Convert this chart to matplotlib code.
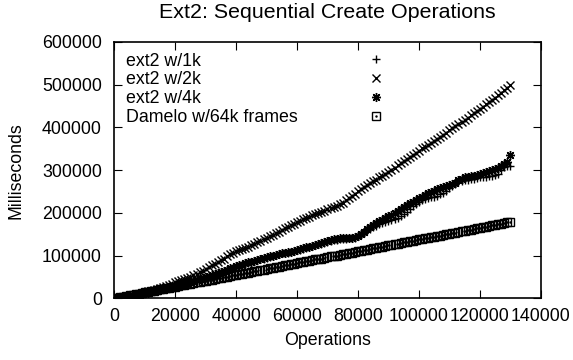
import numpy as np
import matplotlib
matplotlib.use("Agg")
import matplotlib.pyplot as plt

plt.rcParams['font.family'] = ['Liberation Sans', 'DejaVu Sans']
plt.rcParams['font.size'] = 12.8

# operations (x), one sample every 1000 ops
ops = list(range(0, 131000, 1000))

# milliseconds, in thousands
ext2_1k = [0, 1, 2, 3, 4, 5, 7, 8, 9, 11, 12, 14, 15, 17, 18, 20, 21, 23, 24, 26, 28,
           30, 31, 33, 35, 37, 40, 42, 45, 47, 50, 52, 54, 57, 59, 62, 64, 67, 69, 72, 74,
           77, 79, 81, 83, 85, 87, 89, 91, 93, 95, 97, 99, 101, 103, 105, 106, 107, 109, 110, 112,
           114, 116, 118, 120, 122, 124, 126, 128, 130, 132, 134, 136, 137, 138, 139, 139, 140, 141, 142, 145,
           150, 154, 159, 163, 167, 170, 173, 176, 178, 181, 183, 185, 188, 192, 197, 203, 209, 215, 220, 225,
           229, 232, 234, 236, 238, 240, 243, 247, 252, 258, 264, 268, 272, 275, 277, 278, 279, 280, 282, 283,
           284, 285, 286, 287, 289, 292, 300, 308, 310, 310]
ext2_2k = [0, 1, 2, 4, 5, 6, 8, 9, 11, 12, 14, 16, 18, 20, 22, 24, 26, 28, 31, 34, 37,
           40, 42, 45, 48, 51, 54, 57, 61, 65, 69, 73, 77, 81, 85, 89, 93, 98, 103, 107, 110,
           113, 116, 118, 121, 124, 128, 131, 135, 138, 142, 145, 149, 153, 156, 160, 164, 168, 171, 175, 179,
           182, 185, 188, 191, 194, 197, 200, 203, 205, 208, 211, 214, 217, 220, 224, 229, 234, 240, 245, 251,
           256, 260, 265, 269, 274, 278, 283, 287, 292, 296, 301, 306, 311, 316, 321, 326, 331, 336, 341, 346,
           351, 355, 360, 364, 369, 373, 378, 383, 388, 393, 398, 403, 408, 413, 418, 423, 428, 434, 439, 444,
           449, 454, 459, 464, 469, 475, 481, 487, 493, 500]
ext2_4k = [0, 1, 2, 3, 4, 5, 6, 8, 9, 10, 12, 13, 15, 16, 18, 19, 21, 22, 24, 26, 28,
           30, 32, 34, 36, 38, 40, 43, 45, 48, 50, 52, 55, 57, 60, 62, 65, 67, 70, 72, 75,
           77, 79, 82, 84, 86, 88, 90, 92, 94, 96, 98, 100, 102, 104, 106, 107, 108, 109, 111, 113,
           115, 117, 119, 121, 123, 125, 127, 129, 131, 133, 136, 138, 139, 140, 141, 141, 142, 142, 144, 147,
           151, 156, 162, 167, 172, 176, 180, 184, 188, 192, 196, 200, 204, 208, 213, 218, 222, 226, 230, 234,
           238, 242, 246, 249, 252, 255, 258, 261, 264, 266, 268, 270, 276, 280, 283, 284, 286, 287, 289, 291,
           293, 295, 297, 300, 303, 306, 310, 314, 318, 335]
damelo_64k = [0, 1, 3, 4, 5, 7, 8, 10, 11, 12, 14,
              15, 16, 18, 19, 21, 22, 23, 25, 26, 27,
              29, 30, 32, 33, 34, 36, 37, 38, 40, 41,
              43, 44, 45, 47, 48, 49, 51, 52, 54, 55,
              56, 58, 59, 60, 62, 63, 65, 66, 67, 69,
              70, 71, 73, 74, 76, 77, 78, 80, 81, 82,
              84, 85, 87, 88, 89, 91, 92, 93, 95, 96,
              98, 99, 100, 102, 103, 104, 106, 107, 109, 110,
              111, 113, 114, 115, 117, 118, 120, 121, 122, 124,
              125, 126, 128, 129, 131, 132, 133, 135, 136, 138,
              139, 140, 142, 143, 144, 146, 147, 149, 150, 151,
              153, 154, 155, 157, 158, 160, 161, 162, 164, 165,
              166, 168, 169, 171, 172, 173, 175, 176, 178, 179]

labels = ["ext2 w/1k", "ext2 w/2k", "ext2 w/4k", "Damelo w/64k frames"]

fig = plt.figure(figsize=(5.73, 3.6), dpi=100)
ax = fig.add_axes([114.3 / 573, 1 - 298.3 / 360, 426.4 / 573, 256.3 / 360])

x = np.array(ops)
mew = 1.0
h1, = ax.plot(x, np.array(ext2_1k) * 1000, ls='none', marker='+', ms=5.8, mew=mew, color='black')
h2, = ax.plot(x, np.array(ext2_2k) * 1000, ls='none', marker='x', ms=5.2, mew=mew, color='black')
h3, = ax.plot(x, np.array(ext2_4k) * 1000, ls='none', marker=(8, 2, 0), ms=6.5, mew=mew, color='black')
h4a, = ax.plot(x, np.array(damelo_64k) * 1000, ls='none', marker='s', ms=5.4, mew=mew,
               mfc='none', color='black')
h4b, = ax.plot(x, np.array(damelo_64k) * 1000, ls='none', marker='.', ms=1.5, color='black')

ax.set_xlim(0, 140000)
ax.set_ylim(0, 600000)
ax.set_xticks(range(0, 140001, 20000))
ax.set_yticks(range(0, 600001, 100000))
ax.tick_params(direction='in', length=5.5, width=0.8, top=True, right=True)
ax.tick_params(axis='y', pad=9)
ax.tick_params(axis='x', pad=7)
for s in ax.spines.values():
    s.set_linewidth(1.2)

ax.set_title("Ext2: Sequential Create Operations", pad=17)
ax.set_xlabel("Operations", labelpad=5)
ax.set_ylabel("Milliseconds", labelpad=12.5)

# gnuplot style key: text left-aligned, samples in a column further right
blank = [plt.Line2D([], [], ls='none') for _ in labels]
leg_text = ax.legend(blank, labels, loc='upper left', bbox_to_anchor=(0.0274, 0.959),
                     borderaxespad=0, borderpad=0, frameon=False, handlelength=0,
                     handletextpad=0, labelspacing=0.1)
ax.add_artist(leg_text)
leg_mark = ax.legend([h1, h2, h3, (h4a, h4b)], labels, loc='upper left',
                     bbox_to_anchor=(0.593, 0.959), borderaxespad=0, borderpad=0,
                     frameon=False, handlelength=1, handletextpad=0, labelspacing=0.1)
for t in leg_mark.get_texts():
    t.set_color('none')

fig.savefig("out.png", dpi=100)
